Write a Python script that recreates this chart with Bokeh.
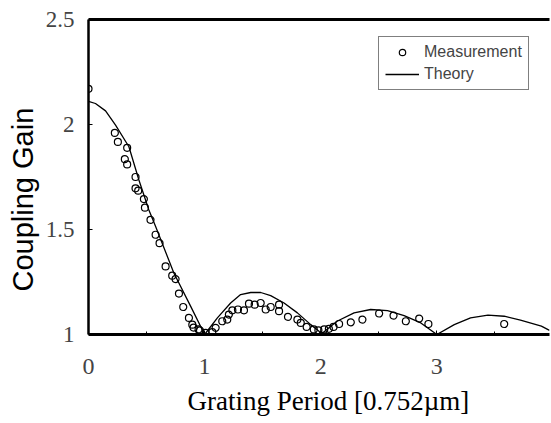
import math
from bokeh.plotting import figure
from bokeh.models import Range1d, LinearAxis, FixedTicker, Legend, LegendItem, Title
from bokeh.embed import file_html
from bokeh.resources import INLINE

# Measured coupling gain
meas_x = [0.0, 0.227, 0.253, 0.313, 0.333, 0.333, 0.405, 0.405, 0.428, 0.477, 0.486,
          0.534, 0.578, 0.612, 0.664, 0.721, 0.75, 0.779, 0.816, 0.865, 0.894, 0.905,
          0.948, 0.96, 1.009, 1.066, 1.095, 1.152, 1.195, 1.209, 1.239, 1.287, 1.339,
          1.382, 1.431, 1.483, 1.526, 1.569, 1.641, 1.641, 1.718, 1.799, 1.828, 1.879,
          1.94, 1.98, 2.03, 2.07, 2.11, 2.158, 2.259, 2.359, 2.503, 2.627, 2.733,
          2.848, 2.927, 3.58]
meas_y = [2.17, 1.96, 1.917, 1.835, 1.889, 1.81, 1.75, 1.696, 1.685, 1.645, 1.604,
          1.546, 1.475, 1.435, 1.324, 1.28, 1.264, 1.195, 1.131, 1.079, 1.047, 1.033,
          1.024, 1.02, 1.008, 1.011, 1.032, 1.063, 1.071, 1.095, 1.115, 1.119, 1.115,
          1.147, 1.142, 1.15, 1.119, 1.131, 1.142, 1.111, 1.084, 1.071, 1.055, 1.036,
          1.024, 1.02, 1.024, 1.027, 1.036, 1.05, 1.058, 1.071, 1.1, 1.09, 1.063,
          1.076, 1.05, 1.05]

# Theoretical coupling gain
theory_x = [0.0, 0.06, 0.147, 0.233, 0.348, 0.434, 0.52, 0.578, 0.735, 0.879, 1.0,
            1.11, 1.224, 1.31, 1.397, 1.483, 1.569, 1.684, 1.799, 1.914, 1.985, 2.0,
            2.14, 2.287, 2.43, 2.575, 2.718, 2.862, 3.0, 3.15, 3.29, 3.44, 3.58,
            3.72, 3.9, 3.97]
theory_y = [2.11, 2.10, 2.065, 1.997, 1.894, 1.736, 1.593, 1.514, 1.293, 1.135, 1.0,
            1.079, 1.15, 1.19, 1.20, 1.20, 1.185, 1.15, 1.103, 1.047, 1.016, 1.0,
            1.063, 1.103, 1.119, 1.114, 1.09, 1.055, 1.0, 1.047, 1.079, 1.092, 1.087,
            1.068, 1.04, 1.02]

x_ticks = [0, 1, 2, 3]
x_tick_labels = ["0", "1", "2", "3"]
y_ticks = [1, 1.5, 2, 2.5]
y_tick_labels = ["1", "1.5", "2", "2.5"]
x_title = "Grating Period [0.752\u00b5m]"
y_title = "Coupling Gain"

SERIF = "Liberation Serif"
SANS = "Liberation Sans"

p = figure(width=551, height=423, x_range=Range1d(0, 3.97), y_range=Range1d(1, 2.5),
           output_backend="svg", toolbar_location=None,
           min_border_left=88, min_border_right=2, min_border_top=19, min_border_bottom=88)
p.outline_line_color = None
p.grid.visible = False

p.xaxis.ticker = FixedTicker(ticks=x_ticks, minor_ticks=[0.5, 1.5, 2.5, 3.5])
p.xaxis.major_label_overrides = {v: t for v, t in zip(x_ticks, x_tick_labels)}
p.xaxis.major_label_text_font = SERIF
p.xaxis.major_label_text_font_size = "24px"
p.xaxis.major_label_standoff = 24
p.xaxis.axis_line_width = 3
p.xaxis.major_tick_in = 4
p.xaxis.major_tick_out = 0
p.xaxis.minor_tick_in = 3
p.xaxis.minor_tick_out = 0

p.yaxis.ticker = FixedTicker(ticks=y_ticks)
p.yaxis.major_label_overrides = {v: t for v, t in zip(y_ticks, y_tick_labels)}
p.yaxis.major_label_text_font = SERIF
p.yaxis.major_label_text_font_size = "23px"
p.yaxis.major_label_standoff = 14
p.yaxis.axis_line_width = 2.5
p.yaxis.major_tick_in = 4
p.yaxis.major_tick_out = 0
p.yaxis.minor_tick_out = 0

top = LinearAxis(ticker=FixedTicker(ticks=[]), major_label_text_font_size="0px",
                 axis_line_width=3, major_tick_out=0, minor_tick_out=0)
p.add_layout(top, "above")

p.add_layout(Title(text=y_title, align="left", offset=43, standoff=8,
                   text_font=SANS, text_font_size="29px", text_font_style="normal",
                   text_color="black"), "left")
p.add_layout(Title(text=x_title, align="left", offset=99, standoff=15,
                   text_font=SERIF, text_font_size="27px", text_font_style="normal",
                   text_color="black"), "below")

r_line = p.line(theory_x, theory_y, line_color="black", line_width=1.3)
r_pts = p.scatter(meas_x, meas_y, marker="circle", size=7, fill_color=None,
                  line_color="black", line_width=1.2)

legend = Legend(items=[LegendItem(label="Measurement", renderers=[r_pts]),
                       LegendItem(label="Theory", renderers=[r_line])],
                location=(290, 244), margin=0, padding=6, spacing=4,
                glyph_width=34, glyph_height=16, label_standoff=5,
                label_text_font=SANS, label_text_font_size="16px",
                border_line_color="black", border_line_width=1)
p.add_layout(legend)

open("out.html", "w").write(file_html(p, INLINE))
